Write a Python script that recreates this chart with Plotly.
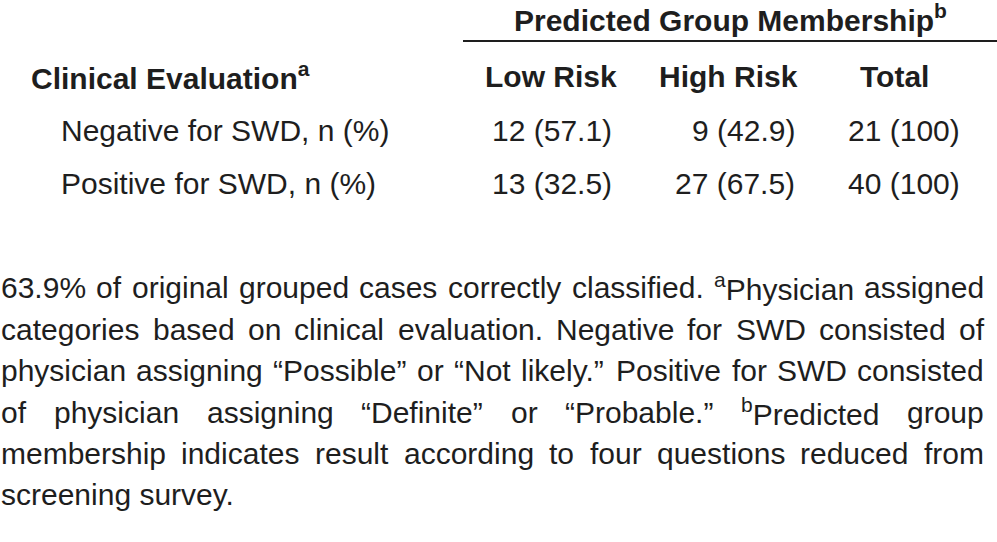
import plotly.graph_objects as go
import re

# ---- data ----
col_group = "Predicted Group Membership<sup>b</sup>"
row_header = "Clinical Evaluation<sup>a</sup>"
columns = ["Low Risk", "High Risk", "Total"]
rows = ["Negative for SWD, n (%)", "Positive for SWD, n (%)"]
low_n = [12, 13]
low_pct = ["57.1", "32.5"]
high_n = [9, 27]
high_pct = ["42.9", "67.5"]
total_n = [21, 40]
total_pct = ["100", "100"]
footnote_lines = [
    "63.9% of original grouped cases correctly classified. <sup>a</sup>Physician assigned",
    "categories based on clinical evaluation. Negative for SWD consisted of",
    "physician assigning \u201cPossible\u201d or \u201cNot likely.\u201d Positive for SWD consisted",
    "of physician assigning \u201cDefinite\u201d or \u201cProbable.\u201d <sup>b</sup>Predicted group",
    "membership indicates result according to four questions reduced from",
    "screening survey.",
]

# ---- layout constants ----
W, H = 997, 542
FONT = "Liberation Sans"
COLOR = "#1e1e1e"
FS = 30
FS_FOOT = 30

# Arial / Liberation Sans advance widths (units per 1000)
AW = {}
for ch, w in zip("abcdefghijklmnopqrstuvwxyz",
                 [556,556,500,556,556,278,556,556,222,222,500,222,833,556,556,556,556,333,500,278,556,500,722,500,500,500]):
    AW[ch] = w
for ch, w in zip("ABCDEFGHIJKLMNOPQRSTUVWXYZ",
                 [667,667,722,722,667,611,778,722,278,500,667,556,833,722,778,667,778,722,667,611,722,667,944,667,667,611]):
    AW[ch] = w
for d in "0123456789":
    AW[d] = 556
AW.update({" ": 278, ".": 278, ",": 278, "%": 889, "(": 333, ")": 333,
           "\u201c": 333, "\u201d": 333, ":": 278})


def width(s, fs):
    total = 0.0
    for part in re.split(r"(<sup>.*?</sup>)", s):
        if part.startswith("<sup>"):
            inner = part[5:-6]
            total += sum(AW.get(c, 556) for c in inner) * 0.7
        else:
            total += sum(AW.get(c, 556) for c in part)
    return total * fs / 1000.0


fig = go.Figure()
fig.add_trace(go.Scatter(x=[0], y=[0], mode="markers", marker=dict(opacity=0),
                         hoverinfo="skip", showlegend=False))

ann = []


def add(text, x, y, xanchor="left", size=FS, bold=False):
    t = f"<b>{text}</b>" if bold else text
    ann.append(dict(text=t, x=x, y=y, xref="x", yref="y", xanchor=xanchor,
                    yanchor="middle", showarrow=False, borderpad=0,
                    font=dict(family=FONT, size=size, color=COLOR)))


# header
add(col_group, 730, 18, "center", bold=True)
add(row_header, 30, 76, "left", bold=True)
for name, cx in zip(columns, [551, 728, 894]):
    add(name, cx, 76, "center", bold=True)

# body
row_y = [130, 183]
for i, r in enumerate(rows):
    add(r, 60, row_y[i], "left")
    add(f"{low_n[i]} ({low_pct[i]})", 613, row_y[i], "right")
    add(f"{high_n[i]} ({high_pct[i]})", 796, row_y[i], "right")
    add(f"{total_n[i]} ({total_pct[i]})", 961, row_y[i], "right")

# footnote (justified)
foot_y = [287, 329, 370, 412, 453, 494]
left, right = 0, 983
for li, line in enumerate(footnote_lines):
    y = foot_y[li]
    if li == len(footnote_lines) - 1:
        add(line, left, y, "left", size=FS_FOOT)
        continue
    words = line.split(" ")
    widths = [width(w, FS_FOOT) for w in words]
    gap = (right - left - sum(widths)) / (len(words) - 1)
    x = left
    for w, wd in zip(words, widths):
        add(w, x, y, "left", size=FS_FOOT)
        x += wd + gap

fig.update_layout(
    width=W, height=H,
    margin=dict(l=0, r=0, t=0, b=0),
    paper_bgcolor="white", plot_bgcolor="white",
    xaxis=dict(range=[0, W], visible=False, fixedrange=True),
    yaxis=dict(range=[H, 0], visible=False, fixedrange=True),
    annotations=ann,
    shapes=[dict(type="line", xref="x", yref="y", x0=463, x1=997, y0=41, y1=41,
                 line=dict(color=COLOR, width=2))],
    showlegend=False,
)

fig.write_html("out.html", config={"displayModeBar": False},
               post_script="document.body.style.margin='0';document.body.style.overflow='hidden';")
